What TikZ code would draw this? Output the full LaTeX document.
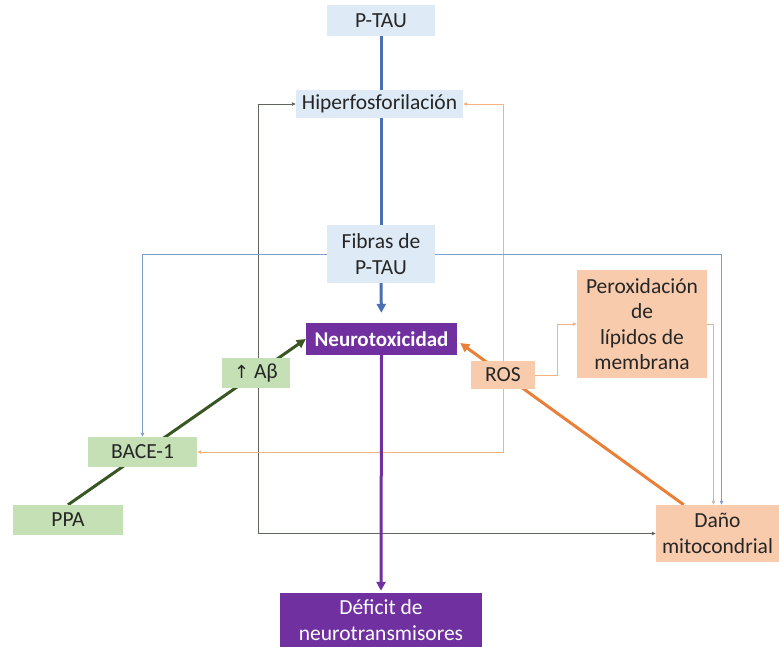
\documentclass[tikz,border=0pt]{standalone}
\usepackage{fontspec}
\setmainfont{Carlito}
\newfontfamily\symfont{DejaVu Sans}
\usetikzlibrary{arrows.meta,backgrounds}
\definecolor{lblue}{HTML}{DEEBF7}
\definecolor{dblue}{HTML}{4A70B4}
\definecolor{tblue}{HTML}{7F9FCF}
\definecolor{purp}{HTML}{7030A0}
\definecolor{lgreen}{HTML}{C5E0B4}
\definecolor{dgreen}{HTML}{385723}
\definecolor{lorange}{HTML}{F8CBAD}
\definecolor{dorange}{HTML}{E8803A}
\definecolor{torange}{HTML}{F4B183}
\definecolor{tgrey}{HTML}{5F665C}
\definecolor{tpale}{HTML}{CDB6A8}
\definecolor{txt}{HTML}{262626}
\begin{document}
\begin{tikzpicture}[x=1pt,y=-1pt,
  box/.style={inner sep=0pt, align=center, font=\fontsize{21.5}{25.5}\selectfont, text=txt},
  bluebox/.style={box, fill=lblue},
  greenbox/.style={box, fill=lgreen},
  orangebox/.style={box, fill=lorange},
  purplebox/.style={box, fill=purp, text=white},
  thickline/.style={line width=3pt},
  bigtip/.style={-{Triangle[length=9pt,width=9pt]}},
  thin/.style={line width=0.8pt},
  smalltip/.style={-{Triangle[length=4pt,width=3.5pt]}},
  bothtips/.style={{Triangle[length=4pt,width=3.5pt]}-{Triangle[length=4pt,width=3.5pt]}}
]
\useasboundingbox (0,0) rectangle (779,647);
% nodes
\node[bluebox, minimum width=108pt, minimum height=31pt] (ptau) at (381,20.5) {P-TAU};
\node[bluebox, minimum width=167pt, minimum height=28pt] (hip) at (379.5,104) {Hiperfosforilación};
\node[bluebox, minimum width=108pt, minimum height=58pt] (fib) at (381,254) {Fibras de\\P-TAU};
\node[purplebox, minimum width=151pt, minimum height=32pt, font=\fontsize{21}{25}\selectfont\bfseries] (neuro) at (381.5,339) {Neurotoxicidad};
\node[greenbox, minimum width=68pt, minimum height=30pt] (ab) at (256,373) {{\symfont\fontsize{18}{20}\selectfont ↑} Aβ};
\node[orangebox, minimum width=64pt, minimum height=28pt] (ros) at (503,375) {ROS};
\node[orangebox, minimum width=130pt, minimum height=108pt] (perox) at (642,324) {Peroxidación\\de\\lípidos de\\membrana};
\node[greenbox, minimum width=109pt, minimum height=30pt] (bace) at (142.5,452) {BACE-1};
\node[greenbox, minimum width=110pt, minimum height=30pt] (ppa) at (68,520) {PPA};
\node[orangebox, minimum width=123pt, minimum height=57pt] (dano) at (717.5,533.5) {Daño\\mitocondrial};
\node[purplebox, minimum width=202pt, minimum height=54pt] (def) at (381,620) {Déficit de\\neurotransmisores};
\coordinate (gx) at (258,0);
% connectors behind boxes
\begin{pgfonlayer}{background}
\draw[thin, tgrey, bothtips] (hip.west) -- (hip.west -| gx) -- (gx |- dano.west) -- (dano.west);
\draw[thin, torange, smalltip] (ros.north) |- (hip.east);
\draw[thin, torange, smalltip] (ros.south) |- (bace.east);
\draw[thin, torange, smalltip] (ros.east) -- ++(22,0) |- (perox.west);
\draw[thin, tpale, smalltip] (perox.east) -| ([xshift=-4pt]dano.north);
\draw[thin, tblue, smalltip] (fib.west) -| (bace.north);
\draw[thin, tblue, smalltip] (fib.east) -| ([xshift=4pt]dano.north);
\draw[thickline, dblue] (ptau.south) -- (fib.north);
\draw[thickline, dblue, bigtip, shorten >=10pt] (fib.south) -- (neuro.north);
\draw[thickline, purp, bigtip, shorten >=2pt] (neuro.south) -- (def.north);
\draw[thickline, dgreen, bigtip] (ppa.north) -- (neuro.west);
\draw[thickline, dorange, bigtip] ([xshift=28pt]dano.north west) -- ([xshift=3pt,yshift=-4pt]neuro.east);
\end{pgfonlayer}
\end{tikzpicture}
\end{document}
